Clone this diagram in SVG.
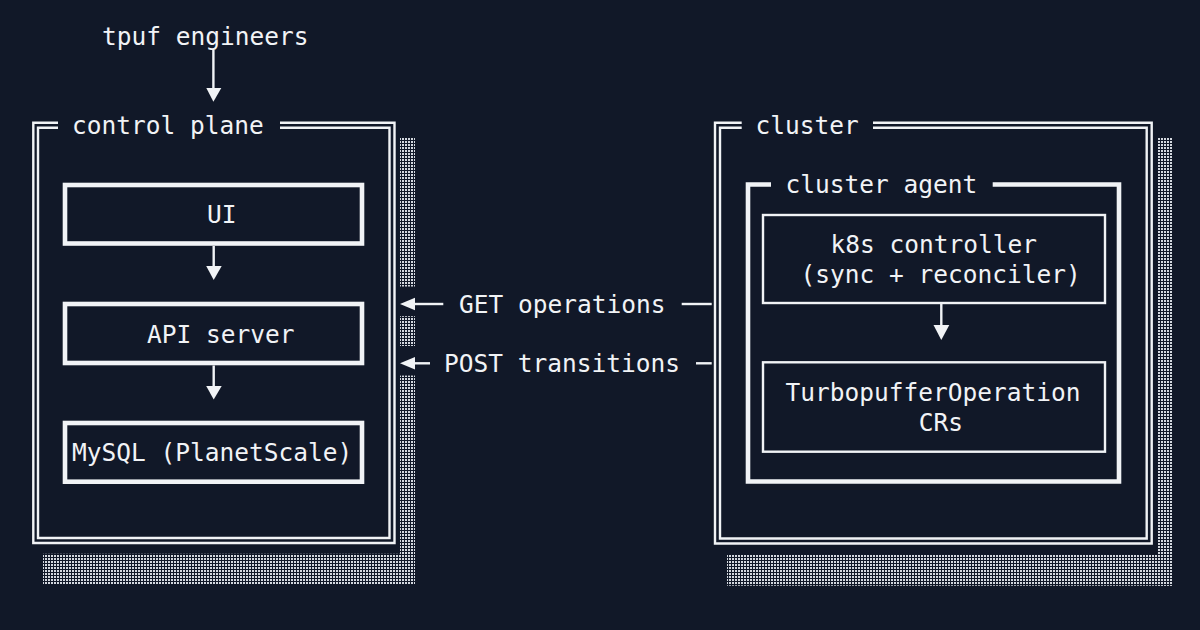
<svg xmlns="http://www.w3.org/2000/svg" width="1200" height="630" viewBox="0 0 1200 630">
<defs>
<pattern id="shade" width="3" height="3" patternUnits="userSpaceOnUse">
<rect x="0" y="0" width="2" height="2" fill="#d4d8df"/>
</pattern>
</defs>
<style>
text{font-family:"DejaVu Sans Mono","Liberation Mono",monospace;font-size:24.5px;fill:#f1f3f6}
.dbl{fill:none;stroke:#f1f3f6;stroke-width:2.4}
.heavy{fill:none;stroke:#f1f3f6;stroke-width:4.6}
.light{fill:none;stroke:#f1f3f6;stroke-width:2.4}
.ln{stroke:#f1f3f6;stroke-width:2.4;fill:none}
.head{fill:#f1f3f6}
.sh{fill:url(#shade)}
</style>
<rect width="1200" height="630" fill="#111828"/>

<g id="control-plane">
<rect class="sh" x="400" y="138" width="15" height="148.5"/>
<rect class="sh" x="400" y="316.2" width="15" height="29.8"/>
<rect class="sh" x="400" y="375.6" width="15" height="209.4"/>
<rect class="sh" x="43" y="553.8" width="372" height="31.2"/>
<path class="dbl" d="M58,122.8 H33.3 V543 H394.5 V122.8 H280"/>
<path class="dbl" d="M58,127.8 H38 V538 H389.5 V127.8 H280"/>
<text x="72" y="134">control plane</text>
</g>

<g id="engineers">
<text x="102" y="45">tpuf engineers</text>
</g>

<g id="ui">
<rect class="heavy" x="65" y="185" width="297" height="58.5"/>
<text x="207" y="223">UI</text>
</g>

<g id="api-server">
<rect class="heavy" x="65" y="304" width="297" height="59"/>
<text x="147" y="342.7">API server</text>
</g>

<g id="mysql">
<rect class="heavy" x="65" y="423" width="297" height="58.7"/>
<text x="72" y="460.7">MySQL (PlanetScale)</text>
</g>

<g id="cluster">
<rect class="sh" x="1157" y="138" width="15" height="447.7"/>
<rect class="sh" x="727" y="554" width="445" height="31.7"/>
<path class="dbl" d="M741.7,122.8 H715 V543.5 H1151.7 V122.8 H873"/>
<path class="dbl" d="M741.7,127.8 H720 V538.5 H1146.7 V127.8 H873"/>
<text x="755.5" y="134.3">cluster</text>
</g>

<g id="cluster-agent">
<path class="heavy" d="M771,184.5 H748 V481.5 H1119 V184.5 H992.7"/>
<text x="785.5" y="193.3">cluster agent</text>
</g>

<g id="k8s-controller">
<rect class="light" x="763" y="215" width="342" height="88"/>
<text x="830.5" y="253">k8s controller</text>
<text x="800.5" y="282.7">(sync + reconciler)</text>
</g>

<g id="crs">
<rect class="light" x="763" y="362.3" width="342" height="89.4"/>
<text x="785.5" y="401">TurbopufferOperation</text>
<text x="918.8" y="430.7">CRs</text>
</g>

<g id="connectors">
<line class="ln" x1="213.4" y1="50" x2="213.4" y2="89"/>
<polygon class="head" points="206.3,88 221.3,88 213.4,101.7"/>

<line class="ln" x1="213.7" y1="246" x2="213.7" y2="267"/>
<polygon class="head" points="206.2,266 221.7,266 213.7,280"/>

<line class="ln" x1="213.7" y1="365.5" x2="213.7" y2="387"/>
<polygon class="head" points="206.2,386 221.7,386 213.7,399.5"/>

<line class="ln" x1="941.3" y1="303" x2="941.3" y2="326"/>
<polygon class="head" points="933.5,325 949.3,325 941.3,340"/>

<line class="ln" x1="414" y1="304" x2="443.3" y2="304"/>
<polygon class="head" points="400,304 415,297.8 415,310.2"/>
<line class="ln" x1="681.7" y1="304" x2="711.7" y2="304"/>
<text x="459" y="312.7">GET operations</text>

<line class="ln" x1="414" y1="363.3" x2="430" y2="363.3"/>
<polygon class="head" points="400,363.3 415,357.1 415,369.5"/>
<line class="ln" x1="696" y1="363.3" x2="711.7" y2="363.3"/>
<text x="444" y="371.7">POST transitions</text>
</g>
</svg>
